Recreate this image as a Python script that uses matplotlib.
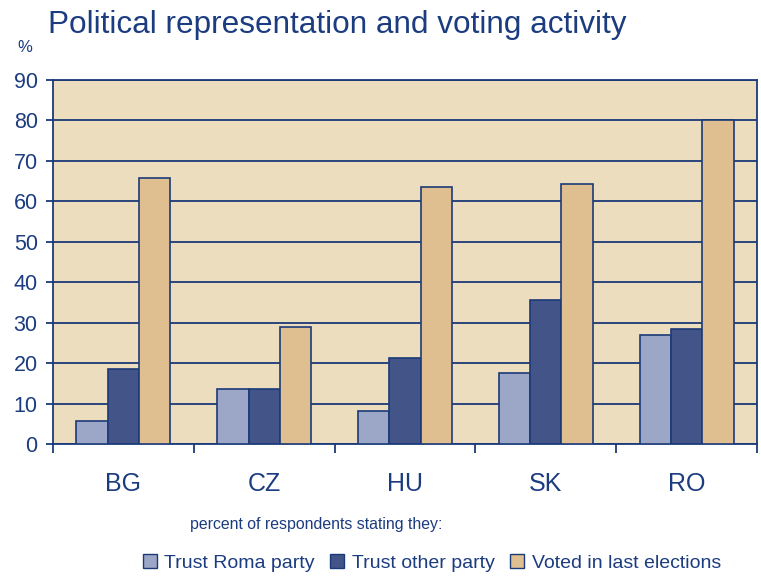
import matplotlib
matplotlib.use("Agg")
import matplotlib.pyplot as plt
import numpy as np
from matplotlib.patches import Patch

countries = ["BG", "CZ", "HU", "SK", "RO"]
trust_roma = [5.8, 13.5, 8.2, 17.6, 27.0]
trust_other = [18.5, 13.5, 21.3, 35.7, 28.5]
voted = [65.7, 29.0, 63.6, 64.2, 80.1]
series_names = ["Trust Roma party", "Trust other party", "Voted in last elections"]
yticks = list(range(0, 100, 10))

navy = "#1B3A78"
text_c = "#1C3C80"
colors = ["#9CA6C6", "#425488", "#DFBF8F"]
bg = "#EDDDBF"

plt.rcParams["font.family"] = ["Liberation Sans", "DejaVu Sans"]

fig = plt.figure(figsize=(7.61, 5.82), dpi=100)
ax = fig.add_axes([53/761, 1-444/582, (757-53)/761, (444-80)/582])
ax.set_facecolor(bg)

x = np.arange(len(countries))
w = 0.223
for i, vals in enumerate([trust_roma, trust_other, voted]):
    ax.bar(x + (i-1)*w, vals, w, color=colors[i], edgecolor=navy, linewidth=1.2, zorder=3)

ax.set_ylim(0, 90)
ax.set_xlim(-0.5, len(countries)-0.5)
ax.set_yticks(yticks)
ax.set_yticklabels([str(v) for v in yticks], fontsize=15.5, color=text_c)
ax.yaxis.grid(True, color=navy, linewidth=1.3, zorder=1)
ax.set_axisbelow(True)
ax.set_xticks(x)
ax.set_xticklabels(countries, fontsize=18, color=text_c)
ax.set_xticks(np.arange(-0.5, len(countries)), minor=True)
ax.tick_params(axis="x", which="major", length=0, pad=20)
ax.tick_params(axis="x", which="minor", length=6.5, width=1.3, color=navy, direction="out")
ax.tick_params(axis="y", length=5, width=1.3, color=navy, direction="out", pad=6)
for s in ax.spines.values():
    s.set_color(navy)
    s.set_linewidth(1.3)

fig.text(48/761, 1-25/582, "Political representation and voting activity", fontsize=22.7,
         color=text_c, va="center", ha="left")
fig.text(25/761, 1-47/582, "%", fontsize=12, color=text_c, va="center", ha="center")
fig.text(190/761, 1-525/582, "percent of respondents stating they:", fontsize=11.4,
         color=text_c, va="center", ha="left")

handles = [Patch(facecolor=colors[i], edgecolor=navy, linewidth=1.0) for i in range(3)]
leg = fig.legend(handles, series_names, loc="center", bbox_to_anchor=(432/761, 1-563/582),
                 ncol=3, frameon=False, fontsize=14, handlelength=0.7, handleheight=0.7,
                 handletextpad=0.4, columnspacing=0.8)
for t in leg.get_texts():
    t.set_color(text_c)

fig.savefig("out.png", dpi=100)
